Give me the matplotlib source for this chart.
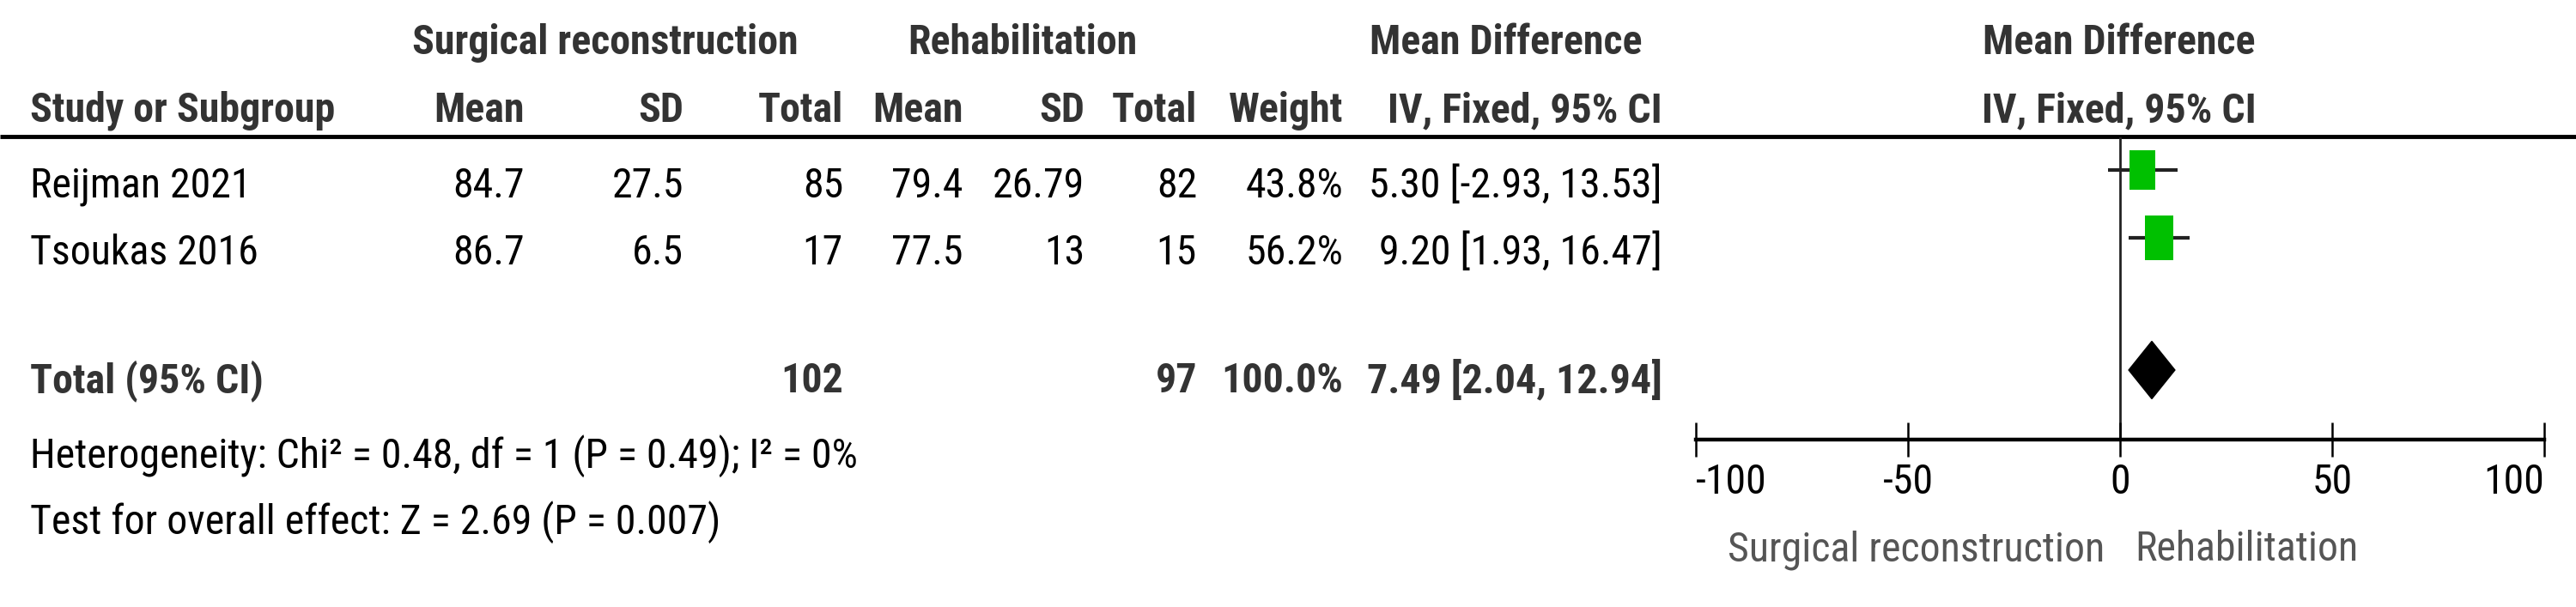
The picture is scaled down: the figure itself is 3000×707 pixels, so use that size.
import matplotlib
matplotlib.use('Agg')
import matplotlib.pyplot as plt
from matplotlib import font_manager
from matplotlib.patches import Rectangle, Polygon

# study-level data
STUDIES = ['Reijman 2021', 'Tsoukas 2016']
SURG_MEAN = [84.7, 86.7]
SURG_SD = [27.5, 6.5]
SURG_N = [85, 17]
REHAB_MEAN = [79.4, 77.5]
REHAB_SD = [26.79, 13]
REHAB_N = [82, 15]
WEIGHT = [43.8, 56.2]
MD = [5.30, 9.20]
CI_LO = [-2.93, 1.93]
CI_HI = [13.53, 16.47]

# pooled result
TOTAL_SURG = 102
TOTAL_REHAB = 97
TOTAL_WEIGHT = 100.0
TOTAL_MD = 7.49
TOTAL_LO = 2.04
TOTAL_HI = 12.94

HETERO = 'Heterogeneity: Chi\u00b2 = 0.48, df = 1 (P = 0.49); I\u00b2 = 0%'
OVERALL = 'Test for overall effect: Z = 2.69 (P = 0.007)'
XTICKS = [-100, -50, 0, 50, 100]
FAVOURS = ['Surgical reconstruction', 'Rehabilitation']

# pick a condensed face if one is installed
names = {f.name for f in font_manager.fontManager.ttflist}
FONT, FS = 'DejaVu Sans', 27
for fam, size in [('Liberation Sans Narrow', 36), ('Roboto Condensed', 34.5),
                  ('Open Sans Condensed', 34), ('Liberation Sans', 30)]:
    if fam in names:
        FONT, FS = fam, size
        break

plt.rcParams['font.family'] = [FONT, 'DejaVu Sans']

BOLD_C = '#333333'
GREEN = '#00C000'

fig = plt.figure(figsize=(30, 7.07), dpi=100)

# pixel-grid axes for the table part
tab = fig.add_axes([0, 0, 1, 1])
tab.set_xlim(0, 3000)
tab.set_ylim(707, 0)
tab.axis('off')

tab.plot([0, 3000], [159, 159], color='black', lw=3.5, solid_capstyle='butt')

def txt(x, y, s, ha='right', bold=False, color=None):
    tab.text(x, y, s, ha=ha, va='baseline', fontsize=FS,
             fontweight='bold' if bold else 'normal',
             color=color or (BOLD_C if bold else 'black'))

# header rows
txt(705, 63, 'Surgical reconstruction', ha='center', bold=True)
txt(1191, 63, 'Rehabilitation', ha='center', bold=True)
txt(1754, 63, 'Mean Difference', ha='center', bold=True)
txt(2468, 63, 'Mean Difference', ha='center', bold=True)

COLS = [611, 796, 982, 1122, 1263, 1394, 1564, 1936]
txt(35, 142, 'Study or Subgroup', ha='left', bold=True)
for x, h in zip(COLS, ['Mean', 'SD', 'Total', 'Mean', 'SD', 'Total',
                       'Weight', 'IV, Fixed, 95% CI']):
    txt(x, 142, h, bold=True)
txt(2468, 142, 'IV, Fixed, 95% CI', ha='center', bold=True)

# study rows
ROW_BASE = [230, 308]
for i, name in enumerate(STUDIES):
    y = ROW_BASE[i]
    txt(35, y, name, ha='left')
    vals = [f'{SURG_MEAN[i]:g}', f'{SURG_SD[i]:g}', f'{SURG_N[i]}',
            f'{REHAB_MEAN[i]:g}', f'{REHAB_SD[i]:g}', f'{REHAB_N[i]}',
            f'{WEIGHT[i]:.1f}%',
            f'{MD[i]:.2f} [{CI_LO[i]:.2f}, {CI_HI[i]:.2f}]']
    for x, v in zip(COLS, vals):
        txt(x, y, v)

# total row
txt(35, 457, 'Total (95% CI)', ha='left', bold=True)
txt(COLS[2], 457, f'{TOTAL_SURG}', bold=True)
txt(COLS[5], 457, f'{TOTAL_REHAB}', bold=True)
txt(COLS[6], 457, f'{TOTAL_WEIGHT:.1f}%', bold=True)
txt(COLS[7], 457, f'{TOTAL_MD:.2f} [{TOTAL_LO:.2f}, {TOTAL_HI:.2f}]', bold=True)

txt(35, 545, HETERO, ha='left')
txt(35, 622, OVERALL, ha='left')

# forest plot
fa = fig.add_axes([1975 / 3000, 1 - 512 / 707, 988 / 3000, (512 - 160) / 707])
fa.set_xlim(-100, 100)
fa.set_ylim(512, 160)
fa.patch.set_alpha(0)
for s in ['top', 'left', 'right']:
    fa.spines[s].set_visible(False)
fa.spines['bottom'].set_linewidth(3.2)
fa.set_yticks([])
fa.set_xticks(XTICKS)
labels = fa.set_xticklabels([f'{t}' for t in XTICKS])
labels[0].set_ha('left')
labels[-1].set_ha('right')
fa.tick_params(axis='x', direction='inout', length=29, width=1.8, pad=5,
               labelsize=FS)
fa.axvline(0, color='#222222', lw=2, zorder=1)

px = 200 / 988  # data units per pixel along x
ROW_Y = [198, 277]
for i in range(len(STUDIES)):
    y = ROW_Y[i]
    fa.plot([CI_LO[i], CI_HI[i]], [y, y], color='#222222', lw=3,
            solid_capstyle='butt', zorder=2)
    w = 4.45 * WEIGHT[i] ** 0.5
    h = 7.0 * WEIGHT[i] ** 0.5
    fa.add_patch(Rectangle((MD[i] - w * px / 2, y - h / 2), w * px, h,
                           facecolor=GREEN, edgecolor='none', zorder=3))

TOT_Y, DH = 431, 67
fa.add_patch(Polygon([(TOTAL_LO, TOT_Y), (TOTAL_MD, TOT_Y - DH / 2),
                      (TOTAL_HI, TOT_Y), (TOTAL_MD, TOT_Y + DH / 2)],
                     closed=True, facecolor='black', edgecolor='black', zorder=3))

txt(2451, 653, FAVOURS[0], color='#555555')
txt(2486, 653, FAVOURS[1], ha='left', color='#555555')

fig.savefig('out.png', dpi=100)
